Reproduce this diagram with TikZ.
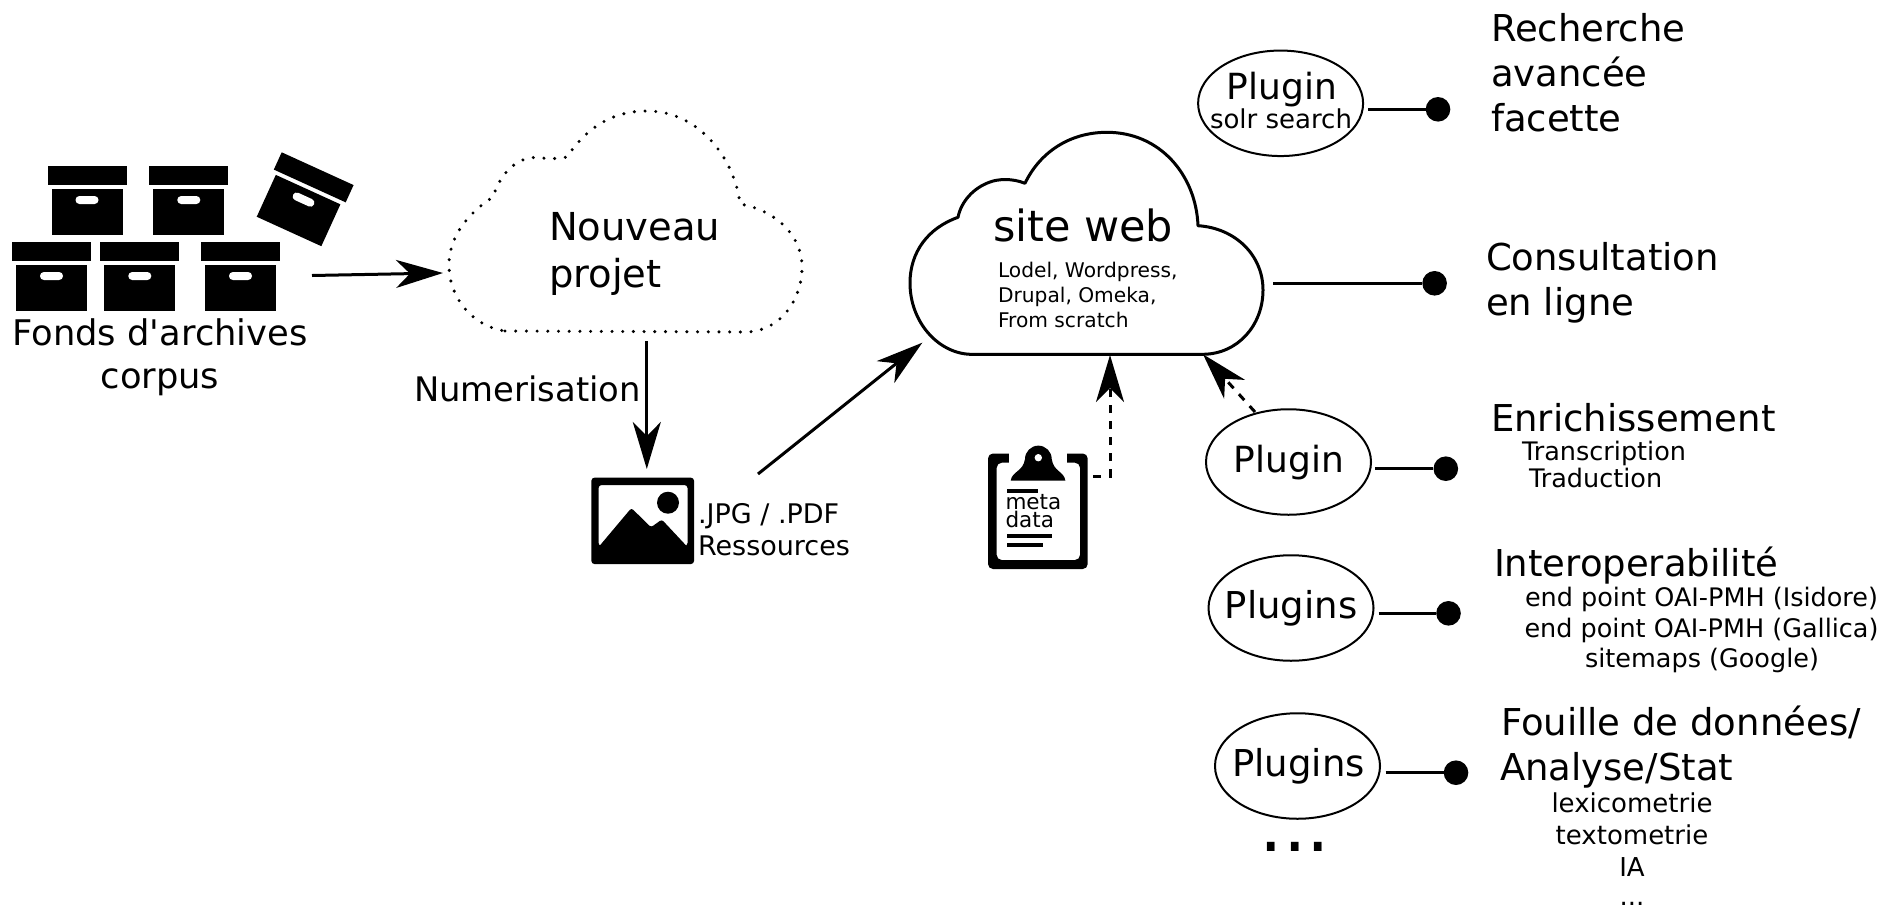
\documentclass[tikz,border=0pt]{standalone}
\usepackage{fontspec}
\setmainfont{DejaVu Sans}[Ligatures=TeXOff]
\usetikzlibrary{arrows.meta,shapes.geometric}
\tikzset{
  lab/.style={anchor=base west,inner sep=0pt,outer sep=0pt,font=\fontsize{#1}{#1}\selectfont},
  labc/.style={anchor=base,inner sep=0pt,outer sep=0pt,font=\fontsize{#1}{#1}\selectfont},
  conn/.style={line width=3pt,-{Stealth[length=47pt,width=28pt,inset=14pt]}},
  dashconn/.style={conn,dash pattern=on 8pt off 8pt},
  plug/.style={draw,ellipse,line width=2pt,minimum width=165pt,minimum height=105.5pt,inner sep=0pt},
  tie/.style={line width=3pt},
  dot/.style={circle,fill=black,minimum size=24.6pt,inner sep=0pt},
  archivebox/.pic={
    \fill (0,0) rectangle (79,19);
    \fill (4,23) rectangle (75,69);
    \fill[white,rounded corners=3.9pt] (28,30) rectangle (51,38);
  }
}
\begin{document}
\begin{tikzpicture}[x=1pt,y=-1pt]
\useasboundingbox (0,0) rectangle (1884,908);
% archive boxes
\pic at (12,242) {archivebox};
\pic at (100.3,242) {archivebox};
\pic at (201,242) {archivebox};
\pic at (47.5,166) {archivebox};
\pic at (149.3,166) {archivebox};
\pic[rotate=-24.5] at (281.7,152.3) {archivebox};
\node[labc=35.3] (fonds) at (160,345) {Fonds d'archives};
\node[labc=35.3] (corpus) at (160,388) {corpus};
% dotted cloud
\draw[line width=3.4pt,line cap=round,dash pattern=on 0pt off 10.7pt]
  (505,331) -- (745,332)
  .. controls (780,332) and (802,300) .. (802,267)
  .. controls (802,235) and (775,210) .. (740,204)
  .. controls (735,160) and (700,111) .. (647,111)
  .. controls (610,111) and (585,130) .. (567,157)
  .. controls (550,160) and (545,158) .. (537,157.5)
  .. controls (515,157) and (500,175) .. (493,197)
  .. controls (470,212) and (449,235) .. (449,265)
  .. controls (449,300) and (475,327) .. (505,331);
\node[lab=38.5] (nv1) at (549,240) {Nouveau};
\node[lab=38.5] (nv2) at (549,287) {projet};
% solid cloud
\draw[line width=3pt,line join=round]
  (970,354.3) -- (1203,354.3)
  .. controls (1238,354) and (1263,325) .. (1263,290)
  .. controls (1263,255) and (1235,228) .. (1198,225.7)
  .. controls (1196,175) and (1160,132.3) .. (1107,132.3)
  .. controls (1070,132.3) and (1040,152) .. (1025,183.3)
  .. controls (1012,178) and (998,179) .. (990,182)
  .. controls (973,188) and (961,202) .. (958,217.3)
  .. controls (928,228) and (910,252) .. (910,283)
  .. controls (910,322) and (938,353) .. (970,354.3) -- cycle;
\node[lab=43] (site) at (993,241.7) {site web};
\node[lab=20.2] (cms1) at (998,277) {Lodel, Wordpress,};
\node[lab=20.2] (cms2) at (998,302) {Drupal, Omeka,};
\node[lab=20.2] (cms3) at (998,327) {From scratch};
% picture icon
\fill[even odd rule,rounded corners=3pt]
  (591.4,477.7) rectangle (694,564)
  (598.6,485) rectangle (687.5,546);
\fill[rounded corners=2.5pt] (598.6,547) -- (631.4,508) -- (651,527.3) -- (661.8,519.5) -- (687.5,547) -- cycle;
\fill (668,502.7) circle[radius=11];
\node[lab=27] (jpg) at (698,523) {.JPG / .PDF};
\node[lab=27] (res) at (698,555.7) {Ressources};
% clipboard icon
\fill[even odd rule,rounded corners=5pt]
  (988,453.5) rectangle (1087.7,569)
  (996.7,462.7) rectangle (1080,560);
\fill[white] (1009,450) rectangle (1067,465);
\fill (1010.7,480.7) .. controls (1012,471) and (1023,472) .. (1025,459)
  arc[start angle=180,end angle=360,radius=13.35]
  .. controls (1053.6,472) and (1064,471) .. (1065.4,480.7) -- cycle;
\fill[white] (1038.3,457.7) circle[radius=3.7];
\fill (1006.7,489) rectangle (1038.3,493);
\fill (1006.7,534.3) rectangle (1051.7,538.3);
\fill (1006.7,542.7) rectangle (1042.7,546.7);
\node[lab=21.5] (meta) at (1005.5,509.5) {meta};
\node[lab=21.5] (data) at (1005.5,527.5) {data};
% named ends
\coordinate (a1) at (312,275.5);
\coordinate (a2) at (443,273);
\coordinate (b1) at (646.8,341);
\coordinate (b2) at (646.8,469);
\coordinate (c1) at (758,474);
\coordinate (c2) at (922.3,342.7);
\coordinate (e1) at (1093,476);
\coordinate (e2) at (1110,476);
\coordinate (e3) at (1110,355);
\coordinate (f1) at (1255,412);
\coordinate (f2) at (1203,354.3);
\draw[conn] (a1) -- (a2);
\draw[conn] (b1) -- (b2);
\draw[conn] (c1) -- (c2);
\draw[dashconn] (e1) -- (e2) -- (e3);
\draw[dashconn] (f1) -- (f2);
\node[lab=33.8] (num) at (414,401) {Numerisation};
% plugins
\node[plug] (p1) at (1280.6,103.3) {};
\node[labc=36] (p1a) at (1281.7,99) {Plugin};
\node[labc=26] (p1b) at (1281,128.5) {solr search};
\node[plug] (p2) at (1288.5,462) {};
\node[labc=36] (p2a) at (1289,472.5) {Plugin};
\node[plug] (p3) at (1291,608) {};
\node[labc=37] (p3a) at (1291,618) {Plugins};
\node[plug] (p4) at (1297.5,766) {};
\node[labc=37] (p4a) at (1298.5,776.5) {Plugins};
\node[labc=74] (more) at (1295,851) {...};
% dots and ties
\node[dot] (d1) at (1438,109.3) {};
\node[dot] (d0) at (1434.6,283.3) {};
\node[dot] (d2) at (1445.8,468.7) {};
\node[dot] (d3) at (1448.5,613.3) {};
\node[dot] (d4) at (1456,772.7) {};
\coordinate (t1) at (1368,109.3);
\coordinate (t0) at (1273,283.3);
\coordinate (t2) at (1375,468.7);
\coordinate (t3) at (1378.5,613.3);
\coordinate (t4) at (1385.7,772.7);
\draw[tie] (t1) -- (d1);
\draw[tie] (t0) -- (d0);
\draw[tie] (t2) -- (d2);
\draw[tie] (t3) -- (d3);
\draw[tie] (t4) -- (d4);
% right labels
\node[lab=37] (r1) at (1491,41) {Recherche};
\node[lab=37] (r2) at (1491,86) {avancée};
\node[lab=37] (r3) at (1491,131) {facette};
\node[lab=37] (co1) at (1486,270) {Consultation};
\node[lab=37] (co2) at (1486,315) {en ligne};
\node[lab=37] (en) at (1491,431) {Enrichissement};
\node[lab=25.5] (tr1) at (1522,460) {Transcription};
\node[lab=25.5] (tr2) at (1529,487.5) {Traduction};
\node[lab=37] (io) at (1494,576) {Interoperabilité};
\node[labc=25.5] (io1) at (1701.5,606) {end point OAI-PMH (Isidore)};
\node[labc=25.5] (io2) at (1701.5,637) {end point OAI-PMH (Gallica)};
\node[labc=25.5] (io3) at (1702,667.5) {sitemaps (Google)};
\node[lab=37] (fo1) at (1501,735) {Fouille de données/};
\node[lab=37] (fo2) at (1500,780) {Analyse/Stat};
\node[labc=26] (fo3) at (1632,812.5) {lexicometrie};
\node[labc=26] (fo4) at (1632,844.3) {textometrie};
\node[labc=26] (fo5) at (1632,876) {IA};
\node[labc=26] (fo6) at (1632,905.5) {...};
\end{tikzpicture}
\end{document}
